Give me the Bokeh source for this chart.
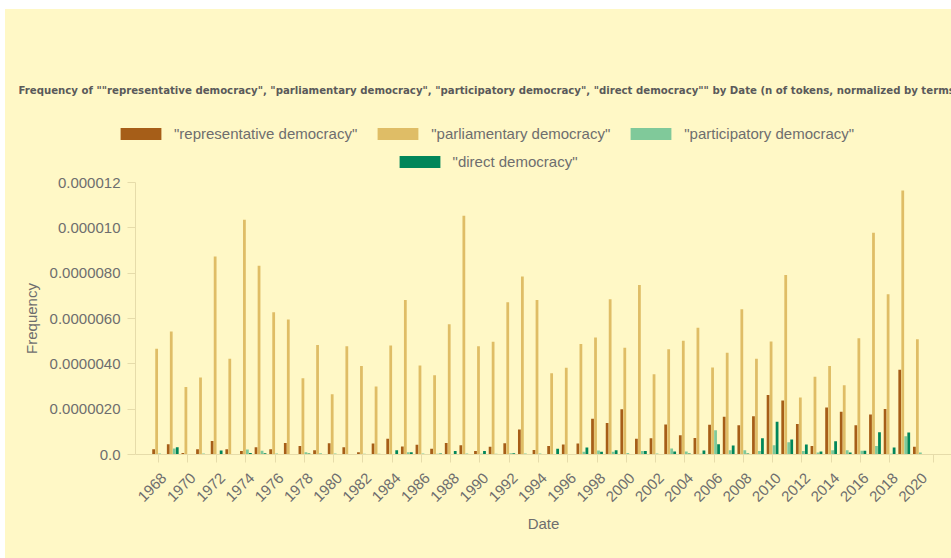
import math
from bokeh.plotting import figure
from bokeh.layouts import column
from bokeh.models import (Range1d, FixedTicker, CustomJSTickFormatter, Legend, LegendItem,
                          Label, ColumnDataSource)
from bokeh.embed import file_html
from bokeh.resources import INLINE

# ---------------- data (frequency, in units of 1e-6) ----------------
years = list(range(1968, 2021))
representative = [0.23, 0.45, 0.07, 0.23, 0.60, 0.23, 0.15, 0.32, 0.23, 0.51,
                  0.38, 0.19, 0.50, 0.32, 0.10, 0.48, 0.69, 0.35, 0.43, 0.25,
                  0.51, 0.41, 0.15, 0.34, 0.50, 1.10, 0.20, 0.37, 0.44, 0.48,
                  1.58, 1.39, 2.00, 0.70, 0.72, 1.32, 0.85, 0.73, 1.31, 1.67,
                  1.29, 1.69, 2.63, 2.38, 1.35, 0.37, 2.07, 1.89, 1.29, 1.77,
                  2.01, 3.74, 0.34]
parliamentary = [4.66, 5.43, 2.98, 3.40, 8.74, 4.22, 10.36, 8.33, 6.28, 5.96,
                 3.36, 4.83, 2.66, 4.78, 3.90, 3.00, 4.81, 6.82, 3.93, 3.50,
                 5.75, 10.53, 4.78, 4.97, 6.72, 7.85, 6.82, 3.59, 3.83, 4.87,
                 5.16, 6.85, 4.71, 7.48, 3.54, 4.64, 5.02, 5.59, 3.84, 4.49,
                 6.41, 4.22, 4.99, 7.92, 2.51, 3.43, 3.90, 3.05, 5.13, 9.78,
                 7.07, 11.65, 5.08]
participatory = [0.04, 0.26, 0.00, 0.04, 0.00, 0.00, 0.22, 0.16, 0.04, 0.00,
                 0.10, 0.06, 0.04, 0.00, 0.03, 0.03, 0.02, 0.10, 0.04, 0.03,
                 0.02, 0.04, 0.03, 0.03, 0.06, 0.04, 0.04, 0.02, 0.02, 0.12,
                 0.18, 0.12, 0.07, 0.15, 0.04, 0.26, 0.13, 0.03, 1.07, 0.19,
                 0.19, 0.15, 0.41, 0.54, 0.15, 0.09, 0.19, 0.19, 0.16, 0.37,
                 0.03, 0.81, 0.09]
direct = [0.00, 0.32, 0.00, 0.00, 0.18, 0.00, 0.07, 0.06, 0.00, 0.00,
          0.04, 0.00, 0.02, 0.00, 0.00, 0.02, 0.19, 0.10, 0.00, 0.04,
          0.15, 0.00, 0.15, 0.00, 0.06, 0.00, 0.00, 0.25, 0.00, 0.31,
          0.12, 0.19, 0.00, 0.15, 0.00, 0.13, 0.04, 0.18, 0.45, 0.40,
          0.04, 0.72, 1.45, 0.66, 0.44, 0.13, 0.59, 0.09, 0.16, 0.98,
          0.31, 0.97, 0.02]
series_names = ['"representative democracy"', '"parliamentary democracy"',
                '"participatory democracy"', '"direct democracy"']
y_ticks = [0, 2, 4, 6, 8, 10, 12]
y_tick_labels = ["0.0", "0.0000020", "0.0000040", "0.0000060", "0.0000080", "0.000010", "0.000012"]
title_text = ('Frequency of ""representative democracy", "parliamentary democracy", '
              '"participatory democracy", "direct democracy"" by Date '
              '(n of tokens, normalized by terms)')

colors = ["#a65e18", "#dfbd66", "#80c99a", "#01865a"]
BG = "#fff8c6"
AXIS_C = "#e6dcaa"
TEXT_C = "#6e6e6e"
FONT = "Liberation Sans"
MX, MY = 5, 9           # white page margin seen at left / top
W = 951 - MX
HEAD_H = 172 - MY


def no_frame_align(fig):
    try:
        fig.frame_align = False
    except Exception:
        pass


# ---------------- header (title + legend) ----------------
head = figure(width=W, height=HEAD_H, output_backend="svg", toolbar_location=None,
              x_range=Range1d(0, W), y_range=Range1d(0, HEAD_H),
              x_axis_type=None, y_axis_type=None,
              min_border_left=0, min_border_right=0, min_border_top=0, min_border_bottom=0)
head.background_fill_color = BG
head.border_fill_color = BG
head.outline_line_color = None
head.xgrid.visible = False
head.ygrid.visible = False
no_frame_align(head)

head.add_layout(Label(x=18 - MX, y=82, x_units="screen", y_units="screen", text=title_text,
                      text_font="'Liberation Sans Narrow', 'DejaVu Sans Condensed', sans-serif",
                      text_font_style="bold", text_font_size="11.3px", text_color="#5a5a5a",
                      text_baseline="middle", text_align="left"))

# legend-only renderers (zero-size, nothing visible)
dummy = []
for col in colors:
    dummy.append(head.vbar(x=[0], top=[0], width=0, fill_color=col, line_color=None))


def make_legend(items, loc):
    return Legend(items=items, location=loc, orientation="horizontal",
                  glyph_width=51, glyph_height=15, label_height=15, label_standoff=8,
                  spacing=15, padding=0, margin=0, border_line_color=None,
                  background_fill_alpha=0, label_text_font=FONT, label_text_font_size="15px",
                  label_text_color=TEXT_C)


leg1 = make_legend([LegendItem(label=series_names[i], renderers=[dummy[i]]) for i in range(3)],
                   (115 - MX, 30))
leg2 = make_legend([LegendItem(label=series_names[3], renderers=[dummy[3]])], (393.6 - MX, 2.5))
head.add_layout(leg1, "center")
head.add_layout(leg2, "center")

# ---------------- main chart ----------------
p = figure(width=W, height=558 - 172, output_backend="svg", toolbar_location=None,
           x_range=Range1d(1966.453, 2022.23), y_range=Range1d(0, 12e-6),
           min_border_left=135 - MX, min_border_right=0, min_border_top=10, min_border_bottom=104)
p.background_fill_color = BG
p.border_fill_color = BG
p.outline_line_color = None
p.xgrid.visible = False
p.ygrid.visible = False
no_frame_align(p)

offsets = [-0.3075, -0.1025, 0.1025, 0.3075]
all_series = [representative, parliamentary, participatory, direct]
for vals, off, col in zip(all_series, offsets, colors):
    src = ColumnDataSource(dict(x=[y + off for y in years], top=[v * 1e-6 for v in vals]))
    p.vbar(x="x", top="top", bottom=0, width=0.19, source=src,
           fill_color=col, line_color=None)

# x axis
xa = p.xaxis[0]
xa.ticker = FixedTicker(ticks=[y + 0.4 for y in years if y % 2 == 0],
                        minor_ticks=[y - 1 for y in years if y % 2 == 1] + [2021])
xa.formatter = CustomJSTickFormatter(code="return String(Math.floor(tick));")
xa.major_label_orientation = math.pi / 4
xa.major_tick_out = 0
xa.major_tick_in = 0
xa.minor_tick_out = 8
xa.minor_tick_in = 0
xa.minor_tick_line_color = AXIS_C
xa.axis_line_color = AXIS_C
xa.major_label_standoff = 13
xa.major_label_text_font = FONT
xa.major_label_text_font_size = "15px"
xa.major_label_text_color = TEXT_C
xa.axis_label = "Date"
xa.axis_label_text_font = FONT
xa.axis_label_text_font_size = "15px"
xa.axis_label_text_font_style = "normal"
xa.axis_label_text_color = TEXT_C
xa.axis_label_standoff = 6

# y axis
ya = p.yaxis[0]
ya.ticker = FixedTicker(ticks=[t * 1e-6 for t in y_ticks], minor_ticks=[])
ya.formatter = CustomJSTickFormatter(args=dict(labs=y_tick_labels),
                                     code="const k = Math.round(tick*1e6/2); return labs[k] ?? '';")
ya.major_tick_out = 8
ya.major_tick_in = 0
ya.minor_tick_out = 0
ya.major_tick_line_color = AXIS_C
ya.axis_line_color = AXIS_C
ya.major_label_standoff = 7
ya.major_label_text_font = FONT
ya.major_label_text_font_size = "15px"
ya.major_label_text_color = TEXT_C
ya.axis_label = "Frequency"
ya.axis_label_text_font = FONT
ya.axis_label_text_font_size = "15px"
ya.axis_label_text_font_style = "normal"
ya.axis_label_text_color = TEXT_C
ya.axis_label_standoff = 7

layout = column(head, p, spacing=0, margin=(MY, 0, 0, MX), styles={"background-color": BG})
open("out.html", "w").write(file_html(layout, INLINE))
